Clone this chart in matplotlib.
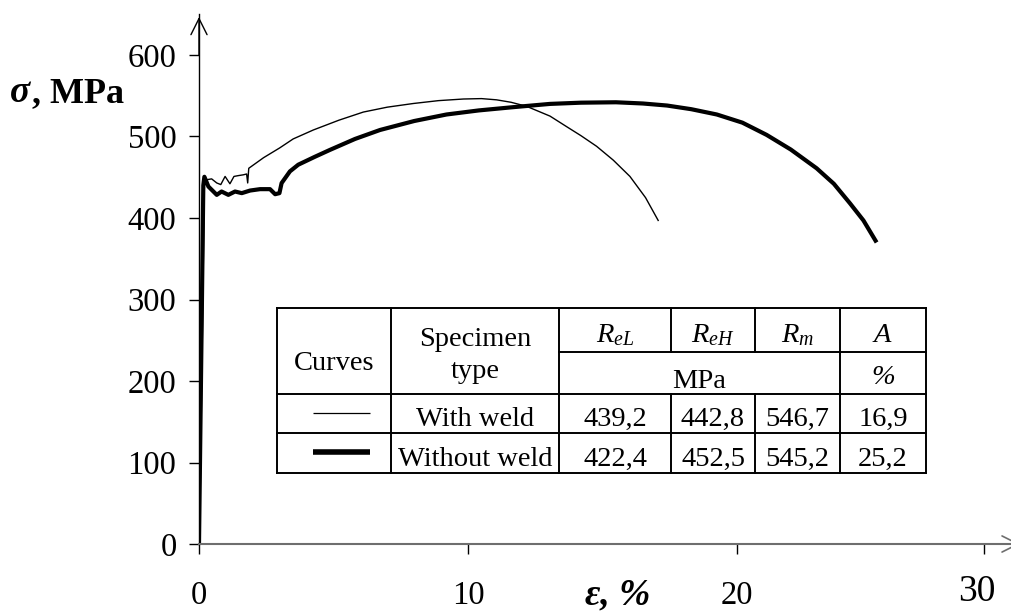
import matplotlib
matplotlib.use("Agg")
import matplotlib.pyplot as plt

# ---------------- data ----------------
strain_with_weld = [0.02, 0.20, 0.29, 0.47, 0.66, 0.81, 0.97, 1.15, 1.30, 1.46, 1.65, 1.77, 1.81,
                    1.85, 2.4, 3.0, 3.5, 4.25, 5.2, 6.11, 7.0, 7.97, 8.9, 9.83, 10.5, 11.06,
                    11.6, 12.18, 13.05, 13.67, 14.2, 14.78, 15.4, 16.02, 16.6, 17.07]
stress_with_weld = [0, 440, 447, 448, 443, 441, 451, 442, 451, 452, 453, 454, 443,
                    461, 474, 486, 497, 508, 520, 530, 536, 540.5, 544, 546, 546.5, 545,
                    542, 537, 525, 512, 501, 488, 471, 451, 425, 397]

strain_without_weld = [0.0, 0.11, 0.16, 0.20, 0.35, 0.66, 0.84, 1.09, 1.34, 1.59, 1.90, 2.27, 2.64,
                       2.83, 2.99, 3.07, 3.38, 3.69, 4.3, 4.87, 5.8, 6.73, 8.0, 9.2, 10.4, 11.68,
                       13.05, 14.2, 15.5, 16.5, 17.4, 18.3, 19.25, 20.2, 21.1, 22.0, 22.96, 23.6,
                       24.2, 24.7, 25.19]
stress_without_weld = [0, 300, 440, 450.6, 438.6, 428.4, 432.5, 428.4, 432.5, 430.5, 433.7, 435.4, 435.4,
                       429.2, 430.5, 442.8, 457.2, 465.4, 475, 483.6, 497, 508, 519, 527, 532, 536,
                       540, 541.5, 542, 540.5, 538, 533.5, 527, 517, 502, 484, 461, 442,
                       418, 397, 370]

x_ticks = [0, 10, 20, 29.2]
x_tick_labels = ["0", "10", "20", "30"]
y_ticks = [0, 100, 200, 300, 400, 500, 600]

table_header_props = ["$R_{eL}$", "$R_{eH}$", "$R_m$", "$A$"]
table_units = ["MPa", "%"]
specimen_types = ["With weld", "Without weld"]
ReL = ["439,2", "422,4"]
ReH = ["442,8", "452,5"]
Rm = ["546,7", "545,2"]
A = ["16,9", "25,2"]

# ---------------- style ----------------
plt.rcParams["font.family"] = ["Liberation Serif", "DejaVu Serif"]
plt.rcParams["mathtext.fontset"] = "custom"
plt.rcParams["mathtext.rm"] = "Liberation Serif"
plt.rcParams["mathtext.it"] = "Liberation Serif:italic"
plt.rcParams["mathtext.bf"] = "Liberation Serif:bold"

W, H = 1011, 614
fig = plt.figure(figsize=(W / 100, H / 100), dpi=100)

# main axes: x=0 at px 199, y=0 at px 544
xs = 26.9   # px per % strain
ys = 0.815  # px per MPa
ax = fig.add_axes([199 / W, (H - 544) / H, (W - 199) / W, (544 - 14) / H])
ax.set_xlim(0, (W - 199) / xs)
ax.set_ylim(0, (544 - 14) / ys)
ax.patch.set_alpha(0)

ax.plot(strain_with_weld, stress_with_weld, color="black", lw=1.0, solid_joinstyle="round")
ax.plot(strain_without_weld, stress_without_weld, color="black", lw=3.0,
        solid_joinstyle="round", solid_capstyle="butt")

for s in ["top", "right"]:
    ax.spines[s].set_visible(False)
ax.spines["left"].set_color("black")
ax.spines["left"].set_linewidth(1.0)
ax.spines["bottom"].set_color("#6e6e6e")
ax.spines["bottom"].set_linewidth(1.5)

ax.set_yticks(y_ticks)
ax.set_yticklabels([str(v) for v in y_ticks])
ax.tick_params(axis="y", direction="out", length=7.2, width=1, pad=9, labelsize=23.5)
ax.set_xticks(x_ticks)
ax.set_xticklabels(x_tick_labels[:-1] + [""])
ax.tick_params(axis="x", direction="out", length=7.2, width=1, pad=19, labelsize=23.5)

# axis arrows
ytip = (544 - 17) / ys
ax.annotate("", xy=(0, ytip), xytext=(0, 600), annotation_clip=False,
            arrowprops=dict(arrowstyle="->", mutation_scale=29, lw=1.0, color="black",
                            shrinkA=0, shrinkB=0))
xtip = (1020 - 199) / xs
ax.annotate("", xy=(xtip, 0), xytext=(25, 0), annotation_clip=False,
            arrowprops=dict(arrowstyle="->", mutation_scale=29, lw=1.2, color="#6e6e6e",
                            shrinkA=0, shrinkB=0))

# ---------------- overlay in pixel coords ----------------
ov = fig.add_axes([0, 0, 1, 1])
ov.set_xlim(0, W)
ov.set_ylim(H, 0)
ov.axis("off")

# "30" label (larger, hand placed in the original)
ov.text(977, 592, x_tick_labels[-1], fontsize=27, ha="center", va="center")

# axis titles
ov.text(10, 102, "σ", fontsize=27, fontweight="bold", fontstyle="italic", ha="left", va="baseline")
ov.text(32, 102, ", MPa", fontsize=26, fontweight="bold", ha="left", va="baseline")
ov.text(585, 604, "ε, %", fontsize=27, fontweight="bold", fontstyle="italic", ha="left", va="baseline")

# table
cx = [276.7, 391, 559, 671, 755, 840, 926]
ry = [308, 352, 394, 433, 473]
lw_t = 1.4
ov.plot([cx[0], cx[-1]], [ry[0], ry[0]], color="black", lw=lw_t)
ov.plot([cx[2], cx[-1]], [ry[1], ry[1]], color="black", lw=lw_t)
for y in ry[2:]:
    ov.plot([cx[0], cx[-1]], [y, y], color="black", lw=lw_t)
for i, x in enumerate(cx):
    if i in (3, 4):
        ov.plot([x, x], [ry[0], ry[1]], color="black", lw=lw_t)
        ov.plot([x, x], [ry[2], ry[4]], color="black", lw=lw_t)
    else:
        ov.plot([x, x], [ry[0], ry[4]], color="black", lw=lw_t)

fs = 20.5
ov.text((cx[0] + cx[1]) / 2, 370, "Curves", fontsize=fs, ha="center", va="baseline")
ov.text((cx[1] + cx[2]) / 2, 346, "Specimen", fontsize=fs, ha="center", va="baseline")
ov.text((cx[1] + cx[2]) / 2, 378, "type", fontsize=fs, ha="center", va="baseline")
for j, lab in enumerate(table_header_props):
    ov.text((cx[2 + j] + cx[3 + j]) / 2, 342, lab, fontsize=fs, ha="center", va="baseline")
ov.text((cx[2] + cx[5]) / 2, 388, table_units[0], fontsize=fs, ha="center", va="baseline")
ov.text((cx[5] + cx[6]) / 2, 384, table_units[1], fontsize=fs, ha="center", va="baseline",
        fontstyle="italic")

row_base = [426, 466]
sample_lw = [0.9, 4.0]
for r in range(2):
    yc = (ry[2 + r] + ry[3 + r]) / 2
    ov.plot([313, 370], [yc - 1, yc - 1], color="black", lw=sample_lw[r], solid_capstyle="butt")
    vals = [specimen_types[r], ReL[r], ReH[r], Rm[r], A[r]]
    for j, v in enumerate(vals):
        ov.text((cx[1 + j] + cx[2 + j]) / 2, row_base[r], v, fontsize=fs, ha="center", va="baseline")

fig.savefig("out.png", dpi=100)
